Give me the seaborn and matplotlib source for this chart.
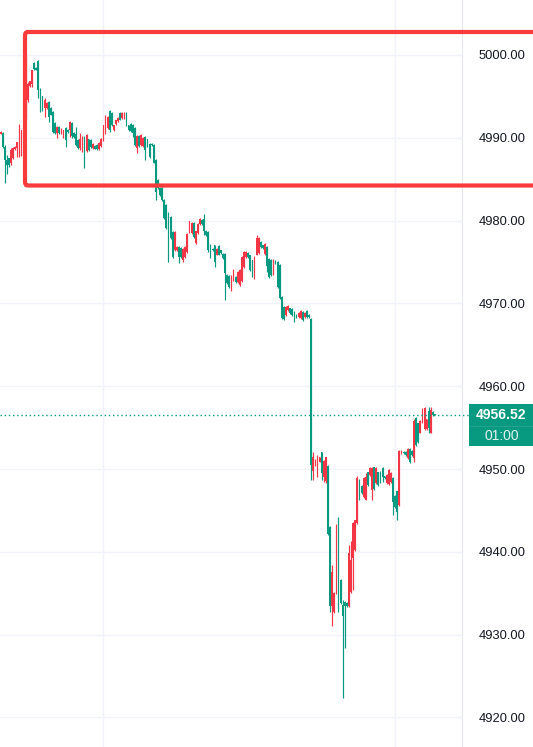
import matplotlib
matplotlib.use("Agg")
import numpy as np
import pandas as pd
import seaborn as sns
import matplotlib.pyplot as plt
from matplotlib.patches import FancyBboxPatch, Rectangle
from matplotlib.lines import Line2D

# ---------------- data ----------------
open_prices = [
    4990.5, 4990.6, 4988.9, 4987.3, 4987.5, 4986.9, 4987.6, 4988.6, 4988.8, 4988.8,
    4988.8, 4990.9, 4992.6, 4994.6, 4996.2, 4996.5, 4999.0, 4998.4, 4999.3, 4995.8,
    4995.0, 4993.6, 4993.6, 4994.3, 4993.6, 4993.1, 4991.8, 4990.6, 4991.3, 4990.6,
    4990.4, 4991.2, 4991.0, 4990.9, 4991.8, 4990.6, 4990.5, 4989.7, 4988.8, 4988.5,
    4990.1, 4988.4, 4989.8, 4989.7, 4988.8, 4989.0, 4989.1, 4988.6, 4989.0, 4989.7,
    4990.6, 4991.2, 4993.2, 4993.0, 4990.9, 4991.7, 4992.0, 4993.0, 4992.4, 4992.4,
    4993.0, 4991.5, 4991.7, 4991.6, 4991.2, 4988.8, 4990.2, 4989.1, 4989.0, 4990.1,
    4989.8, 4989.3, 4989.3, 4989.1, 4987.3, 4984.9, 4983.9, 4983.9, 4982.5, 4981.9,
    4980.9, 4980.4, 4978.6, 4976.4, 4976.4, 4976.8, 4976.7, 4975.2, 4975.6, 4976.2,
    4978.6, 4978.5, 4979.7, 4977.3, 4978.5, 4979.6, 4980.1, 4980.2, 4978.8, 4978.6,
    4977.1, 4976.6, 4977.0, 4975.9, 4976.9, 4976.4, 4976.0, 4976.0, 4973.4, 4973.3,
    4971.6, 4972.8, 4973.2, 4972.6, 4972.2, 4972.7, 4974.4, 4975.6, 4976.1, 4975.8,
    4975.2, 4973.1, 4975.9, 4976.1, 4977.4, 4977.0, 4976.0, 4976.8, 4975.4, 4975.3,
    4973.5, 4975.1, 4975.0, 4974.6, 4970.8, 4969.6, 4968.6, 4969.2, 4969.4, 4969.3,
    4969.0, 4968.6, 4968.3, 4968.2, 4969.0, 4968.3, 4969.1, 4968.6, 4968.1,
    4949.8, 4950.5, 4949.2, 4950.9, 4952.0, 4949.0, 4948.5, 4950.4, 4943.0, 4933.4,
    4932.7, 4935.0, 4942.7, 4936.6, 4933.6, 4934.0, 4933.8, 4933.4, 4935.1, 4939.3,
    4940.2, 4943.5, 4948.7, 4948.0, 4946.6, 4946.3, 4949.6, 4949.3, 4947.5, 4950.2,
    4948.3, 4949.6, 4949.7, 4950.1, 4949.1, 4948.3, 4948.2, 4948.4, 4948.9, 4946.8,
    4947.3, 4945.6, 4951.9, 4952.1, 4952.1, 4951.3, 4952.4, 4952.2, 4951.3, 4956.2,
    4955.5, 4954.4, 4955.7, 4954.8, 4954.8, 4957.0, 4954.4, 4956.9, 4956.6,
]
high_prices = [
    4990.8, 4990.7, 4989.1, 4987.9, 4987.6, 4988.8, 4988.9, 4989.0, 4989.5, 4991.7,
    4990.9, 4993.0, 4999.8, 4996.7, 4996.9, 4998.2, 4999.2, 4998.5, 4999.4, 4996.0,
    4995.1, 4994.8, 4994.3, 4994.4, 4993.7, 4993.2, 4991.9, 4991.4, 4991.4, 4991.2,
    4991.0, 4991.3, 4991.1, 4992.0, 4991.9, 4990.7, 4991.3, 4989.8, 4990.6, 4990.2,
    4990.2, 4990.4, 4989.9, 4989.8, 4989.4, 4989.1, 4989.2, 4989.5, 4990.0, 4991.6,
    4992.8, 4992.6, 4993.3, 4993.1, 4991.6, 4992.2, 4992.5, 4993.1, 4993.1, 4993.1,
    4993.1, 4991.6, 4991.8, 4991.7, 4991.3, 4990.3, 4990.3, 4990.4, 4990.1, 4990.2,
    4989.9, 4989.4, 4989.4, 4989.2, 4987.4, 4985.0, 4984.0, 4984.0, 4982.6, 4982.0,
    4981.0, 4980.5, 4978.7, 4978.7, 4976.9, 4976.9, 4976.8, 4976.7, 4976.9, 4978.5,
    4980.0, 4979.8, 4979.8, 4978.8, 4979.7, 4980.3, 4980.2, 4980.8, 4978.9, 4978.7,
    4977.2, 4976.7, 4977.1, 4976.7, 4977.0, 4976.5, 4976.1, 4976.1, 4973.5, 4973.4,
    4973.4, 4974.1, 4973.3, 4973.9, 4974.1, 4975.7, 4976.3, 4976.3, 4976.2, 4975.9,
    4975.3, 4975.7, 4978.3, 4978.0, 4977.5, 4977.1, 4977.3, 4976.9, 4975.5, 4975.4,
    4975.4, 4975.2, 4975.1, 4974.7, 4970.9, 4969.7, 4969.7, 4969.8, 4969.5, 4969.4,
    4969.1, 4968.7, 4969.0, 4969.2, 4969.1, 4969.0, 4969.2, 4968.7, 4968.2,
    4952.1, 4951.2, 4951.7, 4951.5, 4952.1, 4951.1, 4951.5, 4950.5, 4943.1, 4938.4,
    4935.1, 4943.3, 4944.2, 4936.7, 4934.2, 4934.1, 4933.9, 4940.8, 4941.3, 4943.6,
    4943.9, 4949.1, 4948.8, 4948.1, 4949.0, 4949.5, 4949.7, 4950.2, 4950.2, 4950.3,
    4950.2, 4949.7, 4949.8, 4950.2, 4949.2, 4949.4, 4950.0, 4949.6, 4949.0, 4946.9,
    4947.4, 4952.3, 4952.3, 4952.2, 4952.2, 4952.5, 4952.5, 4952.3, 4956.0, 4956.3,
    4955.6, 4955.9, 4957.4, 4957.5, 4956.1, 4957.5, 4957.5, 4957.0, 4956.7,
]
low_prices = [
    4990.4, 4988.8, 4984.5, 4985.6, 4986.5, 4986.7, 4987.4, 4988.5, 4987.7, 4987.7,
    4987.8, 4990.5, 4992.4, 4994.3, 4996.1, 4996.1, 4998.2, 4998.2, 4994.8, 4993.1,
    4993.2, 4992.5, 4993.5, 4991.9, 4992.7, 4990.6, 4990.5, 4990.0, 4990.5, 4990.5,
    4990.0, 4988.9, 4990.6, 4990.1, 4990.0, 4990.0, 4989.0, 4988.7, 4988.5, 4988.3,
    4986.4, 4988.3, 4988.4, 4988.8, 4988.7, 4988.6, 4988.5, 4988.5, 4988.9, 4989.6,
    4990.5, 4991.1, 4990.7, 4991.4, 4990.8, 4991.6, 4991.9, 4992.1, 4992.3, 4992.3,
    4991.4, 4990.8, 4990.7, 4990.1, 4989.0, 4988.2, 4988.9, 4989.0, 4988.9, 4987.3,
    4988.9, 4987.6, 4989.0, 4986.9, 4982.5, 4983.8, 4983.0, 4982.4, 4980.2, 4979.0,
    4975.0, 4977.8, 4975.5, 4976.3, 4976.3, 4974.9, 4975.5, 4975.0, 4975.5, 4976.1,
    4978.5, 4978.4, 4977.9, 4977.2, 4978.4, 4979.5, 4979.5, 4978.3, 4978.2, 4976.2,
    4975.5, 4976.3, 4974.4, 4975.8, 4975.8, 4976.0, 4975.4, 4970.4, 4972.4, 4971.9,
    4971.5, 4972.7, 4972.5, 4972.5, 4972.1, 4972.6, 4974.3, 4975.5, 4975.5, 4973.9,
    4973.2, 4973.0, 4975.8, 4976.0, 4976.7, 4976.6, 4975.9, 4973.8, 4973.1, 4973.3,
    4973.4, 4974.8, 4971.9, 4970.5, 4968.1, 4968.0, 4968.5, 4969.1, 4968.7, 4968.5,
    4967.8, 4968.2, 4968.2, 4968.1, 4967.9, 4968.2, 4968.2, 4968.2, 4948.7,
    4948.7, 4950.4, 4949.0, 4950.8, 4948.7, 4948.4, 4948.3, 4942.0, 4932.7, 4931.1,
    4932.6, 4934.9, 4932.7, 4933.7, 4922.3, 4928.4, 4933.3, 4933.3, 4935.0, 4935.4,
    4940.1, 4943.4, 4946.2, 4947.0, 4946.5, 4946.2, 4948.0, 4949.2, 4946.3, 4947.5,
    4948.2, 4948.0, 4948.3, 4948.4, 4948.8, 4948.2, 4948.1, 4948.3, 4944.4, 4945.3,
    4943.8, 4945.5, 4951.8, 4951.8, 4951.6, 4951.2, 4950.7, 4951.6, 4950.9, 4952.8,
    4953.2, 4954.3, 4955.6, 4954.7, 4954.7, 4954.3, 4954.3, 4956.4, 4956.5,
]
close_prices = [
    4990.7, 4988.9, 4987.3, 4986.7, 4986.7, 4988.5, 4988.8, 4988.9, 4989.5, 4989.6,
    4990.9, 4992.5, 4996.5, 4996.5, 4996.8, 4998.2, 4998.3, 4998.2, 4995.8, 4993.2,
    4993.3, 4994.6, 4994.2, 4992.5, 4992.8, 4990.7, 4990.6, 4991.3, 4990.6, 4991.1,
    4990.9, 4989.7, 4990.7, 4991.9, 4990.2, 4990.1, 4989.1, 4988.8, 4989.8, 4990.1,
    4988.5, 4990.3, 4988.5, 4988.9, 4989.3, 4988.7, 4988.6, 4989.4, 4989.9, 4991.5,
    4992.6, 4992.5, 4991.0, 4991.5, 4991.5, 4992.1, 4992.4, 4992.2, 4993.0, 4993.0,
    4991.5, 4990.9, 4990.8, 4990.6, 4989.1, 4990.2, 4989.0, 4990.3, 4990.0, 4988.5,
    4989.0, 4987.7, 4989.1, 4987.0, 4983.5, 4983.9, 4983.1, 4982.5, 4980.3, 4979.1,
    4977.9, 4977.9, 4975.6, 4978.6, 4976.8, 4975.6, 4975.6, 4976.6, 4976.8, 4978.4,
    4979.9, 4979.7, 4978.0, 4978.7, 4979.6, 4980.2, 4979.6, 4978.7, 4978.3, 4976.5,
    4975.6, 4976.4, 4975.0, 4976.6, 4975.9, 4976.1, 4975.5, 4973.7, 4972.5, 4972.0,
    4973.3, 4974.0, 4972.6, 4973.8, 4974.0, 4975.6, 4976.2, 4976.2, 4975.6, 4974.0,
    4973.3, 4975.6, 4977.9, 4977.9, 4976.8, 4976.7, 4977.2, 4974.5, 4973.2, 4973.4,
    4975.3, 4974.9, 4972.0, 4970.6, 4968.2, 4968.1, 4969.6, 4969.7, 4968.8, 4968.6,
    4967.9, 4968.3, 4968.9, 4969.1, 4968.0, 4968.9, 4968.3, 4968.3, 4950.5,
    4951.4, 4951.1, 4951.2, 4951.4, 4949.5, 4951.0, 4951.4, 4942.1, 4933.5, 4937.6,
    4935.0, 4943.2, 4934.6, 4933.8, 4932.3, 4933.5, 4933.4, 4939.8, 4939.0, 4943.5,
    4943.8, 4948.9, 4946.3, 4947.1, 4948.9, 4949.0, 4948.1, 4950.1, 4950.1, 4947.6,
    4950.1, 4948.1, 4948.4, 4949.0, 4948.9, 4949.3, 4949.9, 4949.5, 4946.0, 4945.4,
    4944.8, 4952.2, 4952.2, 4951.9, 4951.7, 4952.4, 4950.9, 4951.7, 4955.8, 4952.9,
    4953.3, 4955.8, 4956.6, 4957.4, 4956.0, 4955.0, 4957.1, 4956.5, 4956.52,
]
price_ticks = [4920, 4930, 4940, 4950, 4960, 4970, 4980, 4990, 5000]
last_price = 4956.52
countdown_label = "01:00"

# ---------------- styling ----------------
UP = "#f23645"      # rising candles are red
DOWN = "#089981"    # falling candles are green
GRID = "#f0f3fa"
W, H = 533, 747

sns.set_theme(style="white")
plt.rcParams["font.family"] = ["Liberation Sans", "DejaVu Sans"]

df = pd.DataFrame({
    "open": open_prices, "high": high_prices,
    "low": low_prices, "close": close_prices,
})
df["idx"] = np.arange(len(df))
df["up"] = df["close"] >= df["open"]
df["color"] = np.where(df["up"], UP, DOWN)
df["bottom"] = df[["open", "close"]].min(axis=1)
df["height"] = (df["close"] - df["open"]).abs().clip(lower=0.13)

fig = plt.figure(figsize=(W / 100, H / 100), dpi=100)
fig.patch.set_facecolor("white")
plot_w = 462
ax = fig.add_axes([0, 0, plot_w / W, 1])
ax.set_facecolor("white")

n = len(df)
step = 434.5 / (n - 1)          # px per candle
ax.set_xlim(-0.5 / step, (plot_w - 0.5) / step)
ax.set_ylim(4916.43, 5006.64)

# grid
ax.set_yticks(price_ticks)
ax.set_xticks([(103 - 0.5) / step, (395 - 0.5) / step])
ax.grid(True, color=GRID, linewidth=1.0, zorder=0)
ax.set_axisbelow(True)
ax.tick_params(axis="x", length=0, labelbottom=False)

# candles
ax.vlines(df["idx"], df["low"], df["high"], colors=df["color"], linewidth=0.85, zorder=2)
ax.bar(df["idx"], df["height"], bottom=df["bottom"], width=0.8,
       color=df["color"], linewidth=0, zorder=3)

# price axis on the right
ax.yaxis.tick_right()
ax.tick_params(axis="y", length=0, pad=12, labelsize=9.3, labelcolor="#131722")
ax.set_yticklabels([f"{v:.2f}" for v in price_ticks])
for side in ["top", "left", "bottom"]:
    ax.spines[side].set_visible(False)
ax.spines["right"].set_color("#e6e8ef")
ax.spines["right"].set_linewidth(0.8)

# last price dotted line
x0, x1 = ax.get_xlim()
ax.add_line(Line2D([x0, x1 + 7 / step], [last_price, last_price], color=DOWN,
                   linewidth=1.0, linestyle=(0, (1, 2)), clip_on=False, zorder=4))

# price box
box_left = 469
fig.add_artist(Rectangle((box_left / W, 1 - 446 / H), (W - box_left) / W, 42 / H,
                         transform=fig.transFigure, facecolor=DOWN, edgecolor="none"))
fig.add_artist(Line2D([box_left / W, 1], [1 - 425.5 / H] * 2, transform=fig.transFigure,
                      color="#1ea38c", linewidth=0.8))
fig.text(501 / W, 1 - 415 / H, f"{last_price:.2f}", ha="center", va="center",
         color="white", fontsize=10, fontweight="bold")
fig.text(502 / W, 1 - 436 / H, countdown_label, ha="center", va="center",
         color="#dff2ee", fontsize=10)

# red highlight rectangle
fig.add_artist(FancyBboxPatch((25 / W, 1 - 185.5 / H), (W + 30 - 25) / W, (185.5 - 32) / H,
                              boxstyle="round,pad=0,rounding_size=0.005",
                              transform=fig.transFigure, fill=False,
                              edgecolor="#f93b3b", linewidth=3.0, clip_on=False, zorder=10))

fig.savefig("out.png", dpi=100, facecolor="white")
